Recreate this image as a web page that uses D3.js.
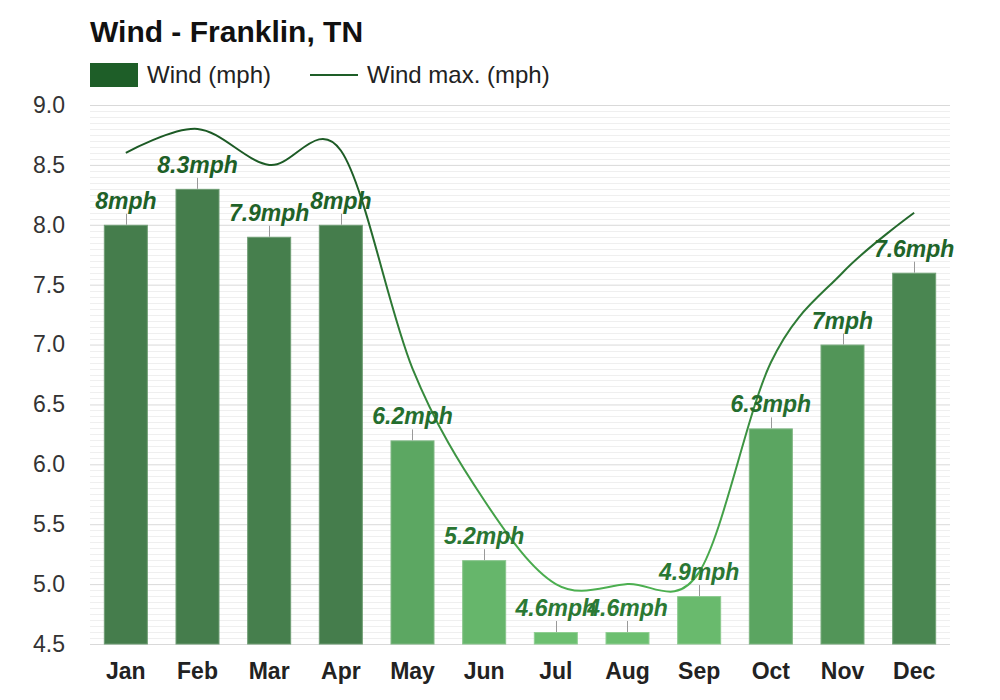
<!DOCTYPE html>
<html>
<head>
<meta charset="utf-8">
<script src="https://cdn.jsdelivr.net/npm/d3@7"></script>
<style>
  html, body { margin: 0; padding: 0; background: #ffffff; }
  svg { display: block; font-family: "Liberation Sans", Arial, Helvetica, sans-serif; }
</style>
</head>
<body>
<svg id="chart" width="1000" height="700"></svg>
<script>
// ---- data ----
const months = ["Jan","Feb","Mar","Apr","May","Jun","Jul","Aug","Sep","Oct","Nov","Dec"];
const windAvg = [8, 8.3, 7.9, 8, 6.2, 5.2, 4.6, 4.6, 4.9, 6.3, 7, 7.6];
const windMax = [8.6, 8.8, 8.5, 8.62, 6.8, 5.7, 5.0, 5.0, 5.1, 6.85, 7.6, 8.1];
const yTicks = [4.5, 5.0, 5.5, 6.0, 6.5, 7.0, 7.5, 8.0, 8.5, 9.0];
const chartTitle = "Wind - Franklin, TN";
const legendLabels = ["Wind (mph)", "Wind max. (mph)"];

// ---- layout ----
const svg = d3.select("#chart");
const plotL = 90, plotR = 950, plotT = 105, plotB = 644;

const x = d3.scaleBand().domain(months).range([plotL, plotR]).paddingInner(0.386).paddingOuter(0.193);
const y = d3.scaleLinear().domain([4.5, 9.0]).range([plotB, plotT]);

const barColor = d3.scaleLinear().domain([4.6, 6.3, 8.0]).range(["#6cbf70", "#5ba561", "#457d4c"]).clamp(true);
const barStroke = d3.scaleLinear().domain([4.6, 8.0]).range(["#8fce92", "#6f9d74"]).clamp(true);
const labelColor = d3.scaleLinear().domain([4.6, 8.3]).range(["#2b7934", "#1d5f27"]).clamp(true);

// title
svg.append("text").attr("x", 90).attr("y", 42)
  .attr("font-size", 30).attr("font-weight", "bold").attr("fill", "#111")
  .text(chartTitle);

// legend
svg.append("rect").attr("x", 90).attr("y", 63).attr("width", 48).attr("height", 24).attr("fill", "#1e5e28");
svg.append("text").attr("x", 147).attr("y", 83).attr("font-size", 24).attr("fill", "#222").text(legendLabels[0]);
svg.append("line").attr("x1", 310).attr("x2", 358).attr("y1", 75).attr("y2", 75)
  .attr("stroke", "#1e5e28").attr("stroke-width", 2);
svg.append("text").attr("x", 367).attr("y", 83).attr("font-size", 24).attr("fill", "#222").text(legendLabels[1]);

// minor grid
const minor = d3.range(0, 91).map(i => 4.5 + i * 0.05).filter(v => Math.abs(Math.round(v * 2) - v * 2) > 1e-6);
svg.append("g").selectAll("line").data(minor).join("line")
  .attr("x1", plotL).attr("x2", plotR)
  .attr("y1", d => Math.round(y(d)) + 0.5).attr("y2", d => Math.round(y(d)) + 0.5)
  .attr("stroke", "#efefef").attr("stroke-width", 1);

// y axis with major grid
const yAxis = d3.axisLeft(y).tickValues(yTicks).tickFormat(d3.format(".1f")).tickSize(-(plotR - plotL)).tickPadding(25);
const gy = svg.append("g").attr("transform", `translate(${plotL},0)`).call(yAxis);
gy.select(".domain").remove();
gy.selectAll(".tick line").attr("stroke", "#d9d9d9");
gy.selectAll(".tick text").attr("font-size", 23).attr("fill", "#333").attr("font-family", "Liberation Sans, Arial, sans-serif");

// x axis
const xAxis = d3.axisBottom(x).tickSize(0).tickPadding(14);
const gx = svg.append("g").attr("transform", `translate(0,${plotB})`).call(xAxis);
gx.select(".domain").remove();
gx.selectAll(".tick text").attr("font-size", 23).attr("font-weight", "bold").attr("fill", "#222")
  .attr("font-family", "Liberation Sans, Arial, sans-serif").attr("dy", "0.92em");

// bars
svg.append("g").selectAll("rect").data(windAvg).join("rect")
  .attr("x", (d, i) => x(months[i]) + 0.5)
  .attr("y", d => y(d) + 0.5)
  .attr("width", x.bandwidth() - 1)
  .attr("height", d => y(4.5) - y(d) - 0.5)
  .attr("fill", d => barColor(d))
  .attr("stroke", d => barStroke(d))
  .attr("stroke-width", 1);

// gradient for max line
const defs = svg.append("defs");
const grad = defs.append("linearGradient").attr("id", "lineGrad")
  .attr("gradientUnits", "userSpaceOnUse")
  .attr("x1", 0).attr("x2", 0).attr("y1", y(8.6)).attr("y2", y(5.0));
grad.append("stop").attr("offset", "0%").attr("stop-color", "#1c5a25");
grad.append("stop").attr("offset", "100%").attr("stop-color", "#4caf50");

const line = d3.line()
  .x((d, i) => x(months[i]) + x.bandwidth() / 2)
  .y(d => y(d))
  .curve(d3.curveCardinal.tension(0));
svg.append("path").datum(windMax).attr("d", line)
  .attr("fill", "none").attr("stroke", "url(#lineGrad)").attr("stroke-width", 2);

// leader lines and labels
const lg = svg.append("g");
lg.selectAll("line").data(windAvg).join("line")
  .attr("x1", (d, i) => Math.round(x(months[i]) + x.bandwidth() / 2) + 0.5)
  .attr("x2", (d, i) => Math.round(x(months[i]) + x.bandwidth() / 2) + 0.5)
  .attr("y1", d => y(d)).attr("y2", d => y(d) - 11)
  .attr("stroke", "#999").attr("stroke-width", 1);
lg.selectAll("text").data(windAvg).join("text")
  .attr("x", (d, i) => x(months[i]) + x.bandwidth() / 2)
  .attr("y", d => y(d) - 16)
  .attr("text-anchor", "middle")
  .attr("font-size", 23).attr("font-weight", "bold").attr("font-style", "italic")
  .attr("fill", d => labelColor(d))
  .text(d => d + "mph");
</script>
</body>
</html>
